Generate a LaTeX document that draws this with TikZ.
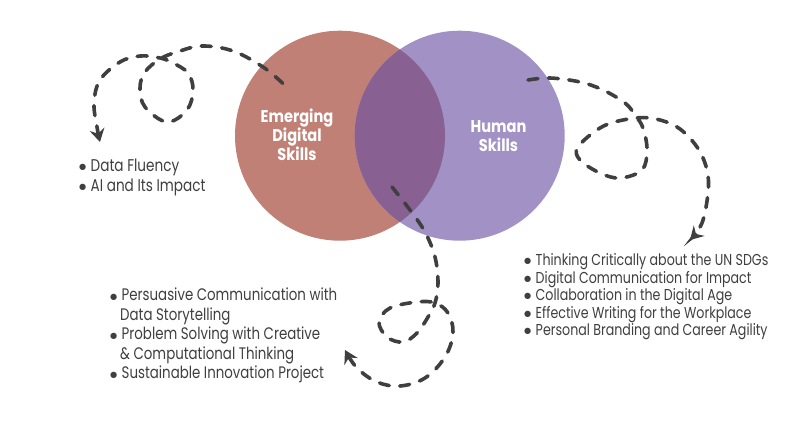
\documentclass[tikz,border=0pt]{standalone}
\usepackage{fontspec}
\setmainfont{Poppins}[FakeStretch=0.8]
\newfontfamily\vennfont{Poppins}[FakeStretch=0.86]
\newfontfamily\dotfont{DejaVu Sans}
\usetikzlibrary{arrows.meta}
\definecolor{redc}{HTML}{C08075}
\definecolor{purc}{HTML}{A291C5}
\definecolor{overc}{HTML}{886192}
\definecolor{ink}{HTML}{3F3F3F}
\newcommand{\bl}{\makebox[9.5pt][l]{\hspace{-2pt}\raisebox{1.8pt}{\dotfont\fontsize{8.2}{9}\selectfont ●}}}
\tikzset{
  venn/.style={circle,minimum size=210pt,inner sep=0pt,draw=none},
  vennlabel/.style={text=white,align=center,font=\vennfont\fontsize{17}{19}\selectfont\bfseries},
  listbox/.style={anchor=north west,align=left,inner sep=0pt,text=ink},
  dashcurve/.style={draw=ink,line width=3.6pt,line cap=round,dash pattern=on 10pt off 10.5pt,
    -{Stealth[length=13pt,width=15pt,inset=4.5pt,sep=0pt]}},
}
\begin{document}
\begin{tikzpicture}[x=1pt,y=-1pt]
\useasboundingbox[fill=white] (0,0) rectangle (800,447);
\node[venn,fill=redc] (digital) at (340,135.7) {};
\node[venn,fill=purc] (human) at (459.7,135.7) {};
\begin{scope}
  \clip (340,135.7) circle (105);
  \fill[overc] (459.7,135.7) circle (105);
\end{scope}
\node[vennlabel] (digitallabel) at (297,135) {Emerging\\Digital\\Skills};
\node[vennlabel] (humanlabel) at (498.5,136) {Human\\Skills};
\node[listbox,font=\fontsize{17}{20}\selectfont] (listA) at (81,159) {\bl Data Fluency\\\bl AI and Its Impact};
\node[listbox,font=\fontsize{15.8}{17.5}\selectfont] (listB) at (526,253.5) {\bl Thinking Critically about the UN SDGs\\\bl Digital Communication for Impact\\\bl Collaboration in the Digital Age\\\bl Effective Writing for the Workplace\\\bl Personal Branding and Career Agility};
\node[listbox,font=\fontsize{16.7}{19.5}\selectfont] (listC) at (112,288) {\bl Persuasive Communication with\\\hspace{8pt}Data Storytelling\\\bl Problem Solving with Creative\\\hspace{8pt}\& Computational Thinking\\\bl Sustainable Innovation Project};
\coordinate (a0) at (282.7,83.3);
\coordinate (a1) at (100,142);
\coordinate (b0) at (528,80);
\coordinate (b1) at (690,240);
\coordinate (c0) at (392,187);
\coordinate (c1) at (345,350);
\draw[dashcurve] plot[smooth,tension=0.6] coordinates {(a0) (263,67) (233,51) (202,46) (177,52) (160,59) (145,72) (140,88) (145,107) (167,122) (187,110) (193,90) (188,73) (173,63) (160,58) (140,56) (120,62) (100,80) (94,103) (97,127) (a1)};
\draw[dashcurve] plot[smooth,tension=0.6] coordinates {(b0) (550,78) (580,82) (603,90) (625,103) (635,115) (643,128) (647,150) (642,170) (620,178) (600,173) (580,160) (578,147) (600,128) (623,120) (650,118) (677,127) (697,147) (707,170) (708,193) (702,223) (b1)};
\draw[dashcurve] plot[smooth,tension=0.6] coordinates {(c0) (410,210) (425,232) (435,257) (438,283) (435,303) (428,317) (417,333) (403,342) (387,337) (379,322) (390,308) (417,302) (435,303) (448,313) (453,333) (445,357) (425,378) (400,386) (377,382) (357,368) (c1)};
\end{tikzpicture}
\end{document}
